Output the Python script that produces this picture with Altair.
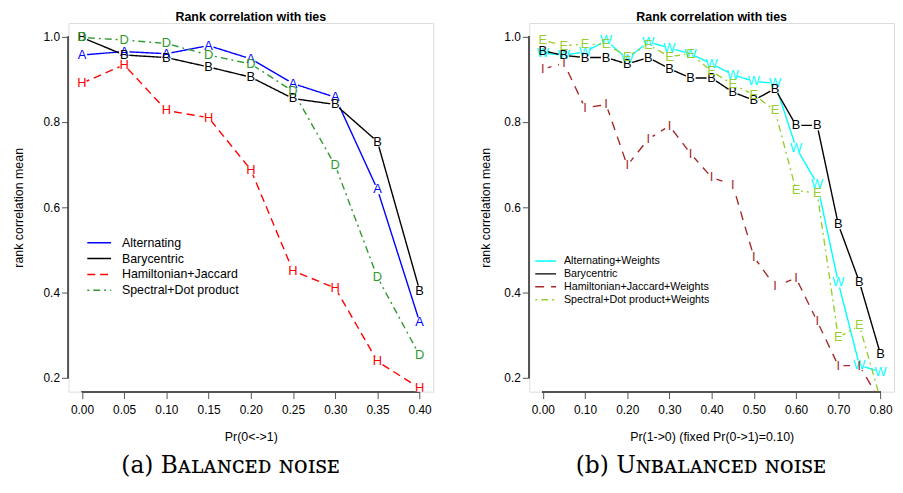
import altair as alt
import pandas as pd

# ---------------- data ----------------
left_x = [0.00, 0.05, 0.10, 0.15, 0.20, 0.25, 0.30, 0.35, 0.40]
left_names = ["Alternating", "Barycentric", "Hamiltonian+Jaccard", "Spectral+Dot product"]
left_letters = ["A", "B", "H", "D"]
left_alt = [0.957, 0.965, 0.960, 0.979, 0.948, 0.890, 0.858, 0.642, 0.331]
left_bary = [0.998, 0.957, 0.951, 0.929, 0.905, 0.855, 0.841, 0.754, 0.405]
left_ham = [0.891, 0.934, 0.827, 0.810, 0.688, 0.451, 0.411, 0.239, 0.176]
left_spec = [0.998, 0.992, 0.984, 0.957, 0.936, 0.872, 0.698, 0.436, 0.253]

right_x = [0.00, 0.05, 0.10, 0.15, 0.20, 0.25, 0.30, 0.35, 0.40, 0.45,
           0.50, 0.55, 0.60, 0.65, 0.70, 0.75, 0.80]
right_names = ["Alternating+Weights", "Barycentric", "Hamiltonian+Jaccard+Weights",
               "Spectral+Dot product+Weights"]
right_letters = ["W", "B", "I", "E"]
right_altw = [0.961, 0.957, 0.964, 0.991, 0.948, 0.988, 0.973, 0.960, 0.936, 0.911,
              0.895, 0.891, 0.740, 0.655, 0.424, 0.230, 0.214]
right_bary = [0.967, 0.956, 0.951, 0.951, 0.936, 0.951, 0.925, 0.903, 0.903, 0.870,
              0.851, 0.878, 0.792, 0.792, 0.560, 0.425, 0.256]
right_hamw = [0.924, 0.938, 0.833, 0.841, 0.698, 0.760, 0.791, 0.726, 0.670, 0.653,
              0.484, 0.415, 0.434, 0.333, 0.229, 0.229, 0.145]
right_specw = [0.992, 0.979, 0.982, 0.982, 0.953, 0.981, 0.953, 0.960, 0.919, 0.888,
               0.864, 0.827, 0.640, 0.633, 0.295, 0.323, 0.150]

y_ticks = [0.2, 0.4, 0.6, 0.8, 1.0]
left_ticks = left_x
right_ticks = right_x

left_colors = ["#0000FF", "#000000", "#FF0000", "#2E9A2E"]
right_colors = ["#00FFFF", "#000000", "#A52A2A", "#9ACD32"]
left_dashes = [[1, 0], [1, 0], [8, 5], [2, 4, 7, 4]]
right_dashes = [[1, 0], [1, 0], [9, 7], [2, 4, 7, 4]]

FONT = "Liberation Sans"
AX = "#555555"
W, H = 368, 372
YDOM = [0.168, 1.032]


def long_df(xs, series, names, letters):
    rows = []
    for vals, n, l in zip(series, names, letters):
        for x, v in zip(xs, vals):
            rows.append({"x": x, "y": v, "series": n, "letter": l})
    return pd.DataFrame(rows)


def panel(df, xticks, xdom, xtitle, names, colors, dashes, label_expr,
          leg_x, leg_y, leg_font, leg_row, sym_len, leg_off, ytitlepad):
    xs = alt.Scale(domain=xdom, nice=False, zero=False)
    ys = alt.Scale(domain=YDOM, nice=False, zero=False)
    xaxis = alt.Axis(values=xticks, labelExpr=label_expr, title=xtitle,
                     tickSize=7, tickColor=AX, labelPadding=6, titlePadding=15,
                     labelFontSize=12, titleFontSize=12.5, labelFont=FONT,
                     titleFont=FONT, titleFontWeight="normal", domain=False,
                     grid=False, labelFlush=False)
    yaxis = alt.Axis(values=y_ticks, format=".1f", title="rank correlation mean",
                     tickSize=7, tickColor=AX, labelPadding=2, titlePadding=ytitlepad,
                     labelFontSize=12, titleFontSize=12.5, labelFont=FONT,
                     titleFont=FONT, titleFontWeight="normal", domain=False,
                     grid=False, labelFlush=False)
    legend = alt.Legend(title=None, orient="none", legendX=leg_x, legendY=leg_y,
                        symbolType="stroke", symbolSize=sym_len * sym_len,
                        symbolStrokeWidth=1.5, labelFont=FONT, labelFontSize=leg_font,
                        clipHeight=leg_row, rowPadding=0, labelOffset=leg_off,
                        padding=0, labelColor="black")
    cscale = alt.Scale(domain=names, range=colors)
    dscale = alt.Scale(domain=names, range=dashes)

    base = alt.Chart(df)
    lines = base.mark_line(clip=True, strokeWidth=1.4).encode(
        x=alt.X("x:Q", scale=xs, axis=xaxis),
        y=alt.Y("y:Q", scale=ys, axis=yaxis),
        color=alt.Color("series:N", scale=cscale, legend=legend),
        strokeDash=alt.StrokeDash("series:N", scale=dscale, legend=legend),
        order="x:Q",
    )
    gaps = base.mark_circle(clip=True, size=110, color="white", opacity=1).encode(
        x=alt.X("x:Q", scale=xs),
        y=alt.Y("y:Q", scale=ys),
    )
    letters = base.mark_text(clip=True, fontSize=13, font=FONT).encode(
        x=alt.X("x:Q", scale=xs),
        y=alt.Y("y:Q", scale=ys),
        text="letter:N",
        color=alt.Color("series:N", scale=cscale, legend=None),
    )
    yline = base.mark_rule(color=AX, strokeWidth=1).encode(
        x=alt.value(0), y=alt.datum(min(y_ticks)), y2=alt.datum(max(y_ticks)))
    xline = base.mark_rule(color=AX, strokeWidth=1).encode(
        y=alt.value(H), x=alt.datum(min(xticks)), x2=alt.datum(max(xticks)))
    return alt.layer(yline, xline, lines, gaps, letters).properties(
        width=W, height=H,
        title=alt.TitleParams("Rank correlation with ties", font=FONT, fontSize=12.5,
                              fontWeight="bold", offset=0, frame="group",
                              anchor="middle"),
    )


left_df = long_df(left_x, [left_alt, left_bary, left_ham, left_spec], left_names, left_letters)
right_df = long_df(right_x, [right_altw, right_bary, right_hamw, right_specw],
                   right_names, right_letters)

left = panel(left_df, left_ticks, [-0.016, 0.416], "Pr(0<->1)", left_names, left_colors,
             left_dashes, "format(datum.value, '.2f')", 18, 214, 12.5, 15.5, 24, 10, 18)
right = panel(right_df, right_ticks, [-0.032, 0.832], "Pr(1->0) (fixed Pr(0->1)=0.10)",
              right_names, right_colors, right_dashes,
              "abs(round(datum.value*100) % 10) == 0 ? format(datum.value, '.2f') : ''",
              5, 234, 10.8, 12.3, 21, 7, 11)

cap_style = dict(orient="bottom", font="DejaVu Serif", fontSize=23.5, fontWeight="normal",
                 offset=11, anchor="middle", color="black")
left_wrap = alt.vconcat(left).properties(
    title=alt.TitleParams("(a) B\u1d00\u029f\u1d00\u0274\u1d04\u1d07\u1d05 \u0274\u1d0f\u026a\ua731\u1d07",
                          dx=8, **cap_style)
).resolve_scale(color="independent", strokeDash="independent")
right_wrap = alt.vconcat(right).properties(
    title=alt.TitleParams("(b) U\u0274\u0299\u1d00\u029f\u1d00\u0274\u1d04\u1d07\u1d05 \u0274\u1d0f\u026a\ua731\u1d07",
                          dx=14, **cap_style)
).resolve_scale(color="independent", strokeDash="independent")

chart = alt.hconcat(left_wrap, right_wrap, spacing=45).resolve_scale(
    color="independent", strokeDash="independent", x="independent", y="independent"
).resolve_legend(color="independent", strokeDash="independent").properties(
    padding={"left": 3, "top": 0, "right": 0, "bottom": 0}
).configure_view(stroke=None).configure(background="white")

chart.save("out.html", embed_options={"renderer": "svg", "actions": False})
